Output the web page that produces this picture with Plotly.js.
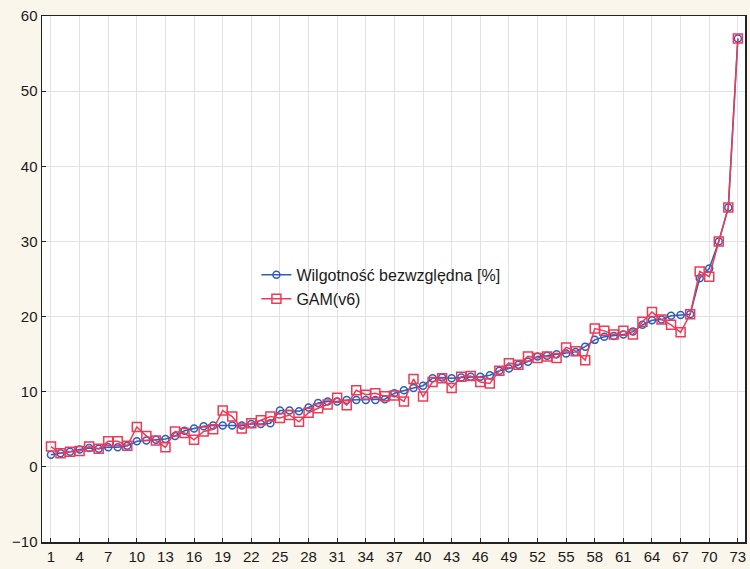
<!DOCTYPE html>
<html>
<head>
<meta charset="utf-8">
<script src="https://cdn.plot.ly/plotly-3.0.1.min.js"></script>
<style>html,body{margin:0;padding:0;background:#faf6ec;}#chart{width:750px;height:569px;}</style>
</head>
<body>
<div id="chart"></div>
<script>
const seriesNames = ["Wilgotność bezwzględna [%]", "GAM(v6)"];
const wilgotnosc = [1.6,1.8,2.0,2.3,2.5,2.4,2.6,2.6,2.8,3.4,3.5,3.6,3.7,4.1,4.8,5.1,5.4,5.5,5.5,5.5,5.5,5.7,5.7,5.8,7.5,7.5,7.4,7.9,8.5,8.7,8.7,8.9,8.9,8.9,8.9,9.0,9.8,10.2,10.5,10.8,11.8,11.9,11.8,11.9,12.0,12.0,12.2,12.8,13.1,13.6,14.0,14.7,14.8,15.0,15.1,15.3,16.0,16.9,17.3,17.4,17.6,18.0,18.9,19.5,19.6,20.1,20.2,20.3,25.1,26.4,30.0,34.5,57.0];
const gam = [2.7,1.8,2.0,2.1,2.7,2.4,3.4,3.4,2.8,5.3,4.1,3.5,2.6,4.7,4.5,3.6,4.7,5.0,7.5,6.7,5.1,5.8,6.2,6.7,6.5,6.9,6.0,7.2,7.8,8.3,9.2,8.2,10.2,9.6,9.8,9.4,9.5,8.7,11.7,9.35,11.3,11.8,10.5,12.0,12.1,11.3,11.1,12.8,13.8,13.6,14.7,14.5,14.7,14.5,15.9,15.4,14.2,18.4,18.1,17.6,18.1,17.6,19.3,20.6,19.6,18.9,17.9,20.3,26.0,25.3,30.0,34.5,57.0];
const xs = wilgotnosc.map((_, i) => i + 1);
const xTickVals = [1,4,7,10,13,16,19,22,25,28,31,34,37,40,43,46,49,52,55,58,61,64,67,70,73];
const yTickVals = [-10,0,10,20,30,40,50,60];

const traces = [
  {x: xs, y: wilgotnosc, name: seriesNames[0], type: 'scatter', mode: 'lines+markers',
   line: {color: '#2f5cbf', width: 1.5},
   marker: {symbol: 'circle-open', size: 7, color: '#2f5cbf', line: {width: 1.5}}},
  {x: xs, y: gam, name: seriesNames[1], type: 'scatter', mode: 'lines+markers',
   line: {color: '#ef3a56', width: 1.5},
   marker: {symbol: 'square-open', size: 9, color: '#ef3a56', line: {width: 1.5}}}
];

const layout = {
  width: 750, height: 569,
  paper_bgcolor: '#faf6ec', plot_bgcolor: '#ffffff',
  margin: {l: 42, r: 5, t: 16, b: 27},
  font: {family: 'Liberation Sans, Arial, sans-serif', size: 15, color: '#1a1a1a'},
  showlegend: true,
  legend: {x: 0.305, y: 0.54, xanchor: 'left', yanchor: 'top', bgcolor: 'rgba(0,0,0,0)',
           font: {size: 16, color: '#1a1a1a'}, tracegroupgap: 0, itemwidth: 30},
  xaxis: {range: [0.06, 73.75], tickmode: 'array', tickvals: xTickVals, ticktext: xTickVals.map(String),
          showgrid: true, gridcolor: '#e2e2e2', gridwidth: 1, zeroline: false,
          showline: true, linecolor: '#222', linewidth: 1.5, mirror: true,
          ticks: 'inside', ticklen: 4, tickcolor: '#222', tickfont: {size: 15, color: '#1a1a1a'}},
  yaxis: {range: [-10, 60], tickmode: 'array', tickvals: yTickVals,
          showgrid: true, gridcolor: '#e2e2e2', gridwidth: 1, zeroline: false,
          showline: true, linecolor: '#222', linewidth: 1.5, mirror: true,
          ticks: 'inside', ticklen: 4, tickcolor: '#222', tickfont: {size: 15, color: '#1a1a1a'}}
};

Plotly.newPlot('chart', traces, layout, {displayModeBar: false, staticPlot: true});
</script>
</body>
</html>
